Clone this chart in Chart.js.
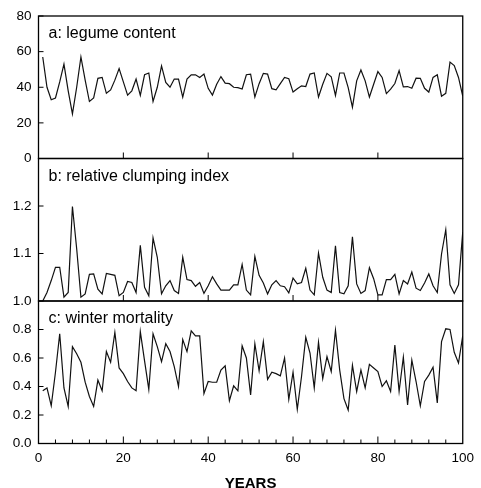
<!DOCTYPE html>
<html>
<head>
<meta charset="utf-8">
<title>legume content, clumping index, winter mortality</title>
<script src="https://cdn.jsdelivr.net/npm/chart.js@4.4.0/dist/chart.umd.min.js"></script>
<style>
  html, body { margin: 0; padding: 0; background: #fff; }
  #wrap { position: relative; width: 481px; height: 488px; }
</style>
</head>
<body>
<div id="wrap"><canvas id="chart" width="481" height="488"></canvas></div>
<script>
var years = [
  1, 2, 3, 4, 5, 6, 7, 8, 9, 10, 11, 12, 13, 14, 15, 16, 17, 18, 19, 20,
  21, 22, 23, 24, 25, 26, 27, 28, 29, 30, 31, 32, 33, 34, 35, 36, 37, 38, 39, 40,
  41, 42, 43, 44, 45, 46, 47, 48, 49, 50, 51, 52, 53, 54, 55, 56, 57, 58, 59, 60,
  61, 62, 63, 64, 65, 66, 67, 68, 69, 70, 71, 72, 73, 74, 75, 76, 77, 78, 79, 80,
  81, 82, 83, 84, 85, 86, 87, 88, 89, 90, 91, 92, 93, 94, 95, 96, 97, 98, 99, 100
];

// a: legume content
var legume = [
  57, 40, 33, 34, 43, 53, 38, 25, 40, 57,
  44, 32, 34, 45, 45.5, 36.6, 38.5, 44, 50.5, 43,
  35.6, 38, 44.6, 35.4, 47, 48, 32, 40, 52, 42.7,
  40, 44.6, 44.6, 34.5, 44.6, 47, 47, 45.5, 47.4, 39.4,
  35.6, 41.7, 46, 42.3, 42, 40, 39.8, 39, 47, 47.4,
  34.5, 42, 47.8, 47.4, 39.2, 38.5, 42, 45.5, 44.8, 37.3,
  39.2, 40.8, 40.4, 47.4, 48, 34.5, 41.7, 47.8, 45.9, 35.4,
  48, 48, 39.8, 28.8, 43.6, 49.7, 43.6, 34.5, 41.7, 48.8,
  45.5, 36.4, 38.9, 42.1, 49.3, 40.2, 40.4, 39.4, 45.1, 45,
  39.4, 37.3, 45.5, 47, 35, 36.6, 54.1, 52.2, 45.5, 35
];

// b: relative clumping index
var clumping = [
  1.0, 1.018, 1.043, 1.071, 1.071, 1.008, 1.018, 1.199, 1.11, 1.008,
  1.015, 1.056, 1.057, 1.025, 1.015, 1.058, 1.056, 1.054, 1.011, 1.018,
  1.041, 1.039, 1.018, 1.117, 1.029, 1.011, 1.133, 1.092, 1.015, 1.032,
  1.043, 1.022, 1.016, 1.092, 1.045, 1.043, 1.031, 1.039, 1.016, 1.032,
  1.051, 1.036, 1.023, 1.023, 1.023, 1.034, 1.034, 1.077, 1.023, 1.013,
  1.094, 1.054, 1.038, 1.015, 1.034, 1.043, 1.032, 1.030, 1.017, 1.048,
  1.036, 1.039, 1.069, 1.023, 1.013, 1.101, 1.050, 1.023, 1.018, 1.116,
  1.018, 1.015, 1.032, 1.135, 1.036, 1.016, 1.022, 1.070, 1.047, 1.013,
  1.013, 1.045, 1.045, 1.056, 1.015, 1.043, 1.036, 1.061, 1.027, 1.022,
  1.038, 1.057, 1.032, 1.018, 1.099, 1.150, 1.034, 1.016, 1.034, 1.145
];

// c: winter mortality
var mortality = [
  0.37, 0.39, 0.265, 0.5, 0.77, 0.39, 0.26, 0.68, 0.63, 0.57,
  0.43, 0.33, 0.26, 0.445, 0.37, 0.645, 0.57, 0.78, 0.53, 0.49,
  0.435, 0.39, 0.37, 0.785, 0.58, 0.38, 0.77, 0.68, 0.575, 0.70,
  0.645, 0.54, 0.40, 0.73, 0.645, 0.79, 0.755, 0.755, 0.35, 0.435,
  0.43, 0.43, 0.515, 0.545, 0.30, 0.405, 0.37, 0.685, 0.6, 0.34,
  0.70, 0.51, 0.715, 0.45, 0.50, 0.49, 0.475, 0.6, 0.31, 0.50,
  0.24, 0.47, 0.745, 0.635, 0.39, 0.71, 0.455, 0.61, 0.505, 0.795,
  0.515, 0.315, 0.235, 0.55, 0.365, 0.515, 0.39, 0.555, 0.53, 0.505,
  0.40, 0.44, 0.365, 0.69, 0.365, 0.605, 0.27, 0.585, 0.435, 0.265,
  0.435, 0.48, 0.535, 0.285, 0.715, 0.805, 0.80, 0.64, 0.565, 0.755
];

var xTicks = [0, 20, 40, 60, 80, 100];
var legumeTicks = [0, 20, 40, 60, 80];
var clumpingTicks = [1.0, 1.1, 1.2];
var mortalityTicks = [0.0, 0.2, 0.4, 0.6, 0.8];
var panelTitles = ['a: legume content', 'b: relative clumping index', 'c: winter mortality'];

(function () {
  var FONT = '"Liberation Sans", Arial, Helvetica, sans-serif';
  var INK = '#000';

  function points(values) {
    return values.map(function (v, i) {
      return { x: years[i], y: v };
    });
  }

  function fixedTicks(list) {
    return function (scale) {
      scale.ticks = list.map(function (v) { return { value: v }; });
    };
  }

  function yAxis(min, max, list, digits) {
    return {
      position: 'left',
      stack: 'panels',
      stackWeight: 1,
      min: min,
      max: max,
      afterBuildTicks: fixedTicks(list),
      afterFit: function (scale) { scale.width = 38.5; },
      grid: { display: false, drawTicks: false },
      border: { display: false },
      ticks: {
        color: INK,
        padding: 7,
        font: { family: FONT, size: 13.5 },
        callback: function (v) { return Number(v).toFixed(digits); }
      }
    };
  }

  function line(ctx, x1, y1, x2, y2) {
    ctx.beginPath();
    ctx.moveTo(x1, y1);
    ctx.lineTo(x2, y2);
    ctx.stroke();
  }

  // panel boxes, inward tick marks and the panel captions
  var panelFrame = {
    id: 'panelFrame',
    afterDatasetsDraw: function (chart) {
      var ctx = chart.ctx;
      var area = chart.chartArea;
      var xs = chart.scales.x;
      ctx.save();
      ctx.strokeStyle = INK;
      ctx.fillStyle = INK;
      ['ya', 'yb', 'yc'].forEach(function (id, i) {
        var s = chart.scales[id];
        ctx.lineWidth = 1.3;
        ctx.strokeRect(area.left, s.top, area.right - area.left, s.bottom - s.top);
        ctx.lineWidth = 1;
        s.ticks.forEach(function (t) {
          var py = s.getPixelForValue(t.value);
          line(ctx, area.left, py, area.left + 5, py);
        });
        if (i < 2) {
          xs.ticks.forEach(function (t) {
            if (t.value <= 0 || t.value >= 100) return;
            var px = xs.getPixelForValue(t.value);
            line(ctx, px, s.bottom, px, s.bottom - 6);
          });
        } else {
          for (var v = 4; v < 100; v += 4) {
            var px = xs.getPixelForValue(v);
            line(ctx, px, s.bottom, px, s.bottom - (v % 20 === 0 ? 7 : 4));
          }
        }
        ctx.font = '16px ' + FONT;
        ctx.textBaseline = 'middle';
        ctx.textAlign = 'left';
        ctx.fillText(panelTitles[i], area.left + 10, s.top + 18);
      });
      ctx.restore();
    }
  };

  function series(values, axis) {
    return {
      data: points(values),
      yAxisID: axis,
      borderColor: '#111',
      borderWidth: 1.2,
      pointRadius: 0,
      tension: 0,
      fill: false
    };
  }

  var canvas = document.getElementById('chart');
  new Chart(canvas.getContext('2d'), {
    type: 'line',
    data: {
      datasets: [
        series(legume, 'ya'),
        series(clumping, 'yb'),
        series(mortality, 'yc')
      ]
    },
    options: {
      responsive: false,
      animation: false,
      layout: { padding: { top: 16, right: 13, left: 0, bottom: 0 } },
      plugins: {
        legend: { display: false },
        tooltip: { enabled: false }
      },
      scales: {
        x: {
          type: 'linear',
          min: 0,
          max: 100,
          afterBuildTicks: fixedTicks(xTicks),
          afterFit: function (scale) { scale.height = 44.5; },
          grid: { display: false, drawTicks: false },
          border: { display: false },
          ticks: {
            color: INK,
            padding: 7,
            maxRotation: 0,
            autoSkip: false,
            font: { family: FONT, size: 13.5 }
          },
          title: {
            display: true,
            text: 'YEARS',
            color: INK,
            font: { family: FONT, size: 15, weight: 'bold', lineHeight: 1 },
            padding: { top: 4, bottom: -3 }
          }
        },
        // stacked axes are laid out bottom-up, so the lowest panel comes first
        yc: yAxis(0, 1.0, mortalityTicks, 1),
        yb: yAxis(1.0, 1.3, clumpingTicks, 1),
        ya: yAxis(0, 80, legumeTicks, 0)
      }
    },
    plugins: [panelFrame]
  });
})();
</script>
</body>
</html>
